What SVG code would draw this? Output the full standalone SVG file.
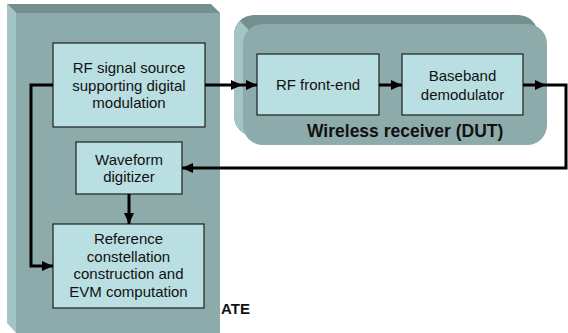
<svg xmlns="http://www.w3.org/2000/svg" width="568" height="333" viewBox="0 0 568 333">
  <style>
    .face-front { fill: #8eabab; }
    .face-top { fill: #748f8f; }
    .face-side { fill: #a3c5c6; }
    .block { fill: #b9dfe2; stroke: #1e1e1e; stroke-width: 1.2; }
    .txt { font-family: "Liberation Sans", Arial, sans-serif; font-size: 15px; fill: #111; text-anchor: middle; }
    .lbl { font-family: "Liberation Sans", Arial, sans-serif; font-size: 17.5px; font-weight: bold; fill: #111; }
    .wire { fill: none; stroke: #000; stroke-width: 3; }
  </style>
  <defs>
    <marker id="arrow" markerUnits="userSpaceOnUse" markerWidth="12" markerHeight="10" refX="11" refY="5" orient="auto">
      <path d="M0,0 L11,5 L0,10 Z" fill="#000"/>
    </marker>
  </defs>

  <rect width="568" height="333" fill="#fff"/>

  <!-- ATE cabinet (3D block) -->
  <g id="ate">
    <polygon class="face-top" points="7,4 211,4 220,13 16,13"/>
    <polygon class="face-side" points="7,4 16,13 16,333 7,323"/>
    <rect class="face-front" x="16" y="13" width="204" height="320"/>
    <text class="lbl" x="221" y="314" style="font-size:15px">ATE</text>
  </g>

  <!-- DUT enclosure (rounded 3D block) -->
  <g id="dut">
    <rect class="face-top" x="234" y="15" width="304" height="121" rx="20"/>
    <path class="face-side" d="M239.9,20.9 A20,20 0 0 0 234,35 V116 A20,20 0 0 0 254,136 L263,145 L248.9,29.9 Z"/>
    <rect class="face-front" x="243" y="24" width="304" height="121" rx="20"/>
    <text class="lbl" x="307" y="137">Wireless receiver (DUT)</text>
  </g>

  <g id="rf-source">
    <rect class="block" x="53" y="43" width="152" height="84"/>
    <text class="txt" x="129" y="73">RF signal source</text>
    <text class="txt" x="129" y="90.5">supporting digital</text>
    <text class="txt" x="129" y="108">modulation</text>
  </g>

  <g id="digitizer">
    <rect class="block" x="76" y="142" width="106" height="52"/>
    <text class="txt" x="129" y="165">Waveform</text>
    <text class="txt" x="129" y="182">digitizer</text>
  </g>

  <g id="evm">
    <rect class="block" x="53" y="224" width="151" height="84"/>
    <text class="txt" x="128.5" y="244">Reference</text>
    <text class="txt" x="128.5" y="261.5">constellation</text>
    <text class="txt" x="128.5" y="279">construction and</text>
    <text class="txt" x="128.5" y="296.5">EVM computation</text>
  </g>

  <g id="rf-frontend">
    <rect class="block" x="257" y="54" width="122" height="61"/>
    <text class="txt" x="318" y="90">RF front-end</text>
  </g>

  <g id="demodulator">
    <rect class="block" x="402" y="54" width="121" height="61"/>
    <text class="txt" x="462.5" y="81">Baseband</text>
    <text class="txt" x="462.5" y="100">demodulator</text>
  </g>

  <!-- signal paths -->
  <g id="connectors">
    <path class="wire" d="M205,85 H242" marker-end="url(#arrow)"/>
    <path class="wire" d="M242,85 H257" marker-end="url(#arrow)"/>
    <path class="wire" d="M379,85 H402" marker-end="url(#arrow)"/>
    <path class="wire" d="M523,85 H546" marker-end="url(#arrow)"/>
    <path class="wire" d="M546,85 H566 V168 H182" marker-end="url(#arrow)"/>
    <path class="wire" d="M129,194 V224" marker-end="url(#arrow)"/>
    <path class="wire" d="M53,85 H31 V266 H53" marker-end="url(#arrow)"/>
  </g>
</svg>
